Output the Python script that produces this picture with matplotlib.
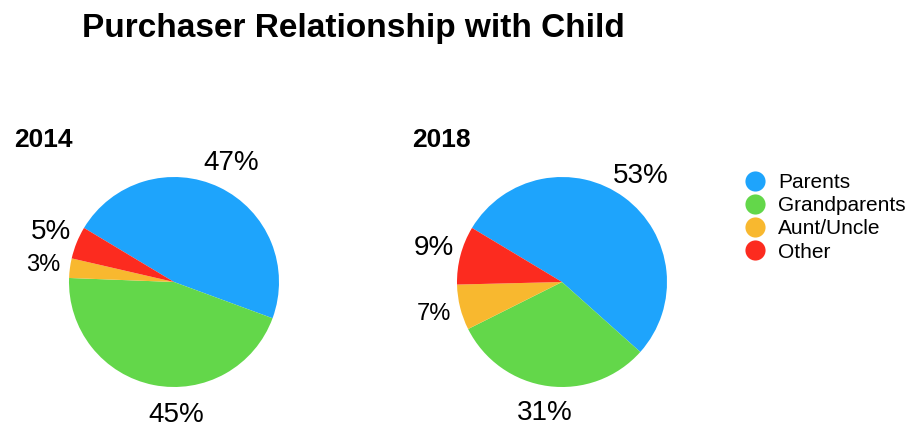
import matplotlib
matplotlib.use("Agg")
import matplotlib.pyplot as plt
from matplotlib.lines import Line2D

plt.rcParams['font.family'] = ['Liberation Sans', 'DejaVu Sans']

categories = ["Parents", "Grandparents", "Aunt/Uncle", "Other"]
years = ["2014", "2018"]
shares = {
    "2014": [47, 45, 3, 5],
    "2018": [53, 31, 7, 9],
}
colors = ["#1EA4FC", "#63D74A", "#F8B82F", "#FC2B1F"]

W, H = 911, 429
fig = plt.figure(figsize=(W / 100, H / 100), dpi=100)

fig.text(82 / W, 1 - 28 / H, "Purchaser Relationship with Child",
         fontsize=24, fontweight="bold", va="center", ha="left")

centers = [(174, 282), (562, 282)]
title_x = [14, 412]
R = 105
for yr, (cx, cy), tx in zip(years, centers, title_x):
    ax = fig.add_axes([(cx - R) / W, (H - cy - R) / H, 2 * R / W, 2 * R / H])
    wedges, texts, autotexts = ax.pie(
        shares[yr], colors=colors, startangle=149, counterclock=False,
        autopct="%.0f%%", pctdistance=1.26,
        wedgeprops=dict(linewidth=0),
        textprops=dict(color="black"))
    for i, t in enumerate(autotexts):
        # the Aunt/Uncle label is drawn smaller in the original
        t.set_fontsize(17 if categories[i] == "Aunt/Uncle" else 20)
    if yr == "2014":
        # the 45% label sits just below the centre, not at the wedge middle
        autotexts[1].set_position((0.02, -1.27))
    ax.set_xlim(-1, 1)
    ax.set_ylim(-1, 1)
    ax.set_aspect("auto")
    ax.axis("off")
    fig.text(tx / W, 1 - 140 / H, yr, fontsize=19, fontweight="bold",
             va="center", ha="left")

handles = [Line2D([], [], marker="o", linestyle="none", markersize=14.5,
                  markerfacecolor=c, markeredgewidth=0) for c in colors]
fig.legend(handles, categories, loc="upper left",
           bbox_to_anchor=(744 / W, 1 - 173 / H), frameon=False,
           fontsize=15, handletextpad=0.55, labelspacing=0.2,
           handlelength=1.1, borderaxespad=0, borderpad=0)

fig.savefig("out.png", dpi=100)
